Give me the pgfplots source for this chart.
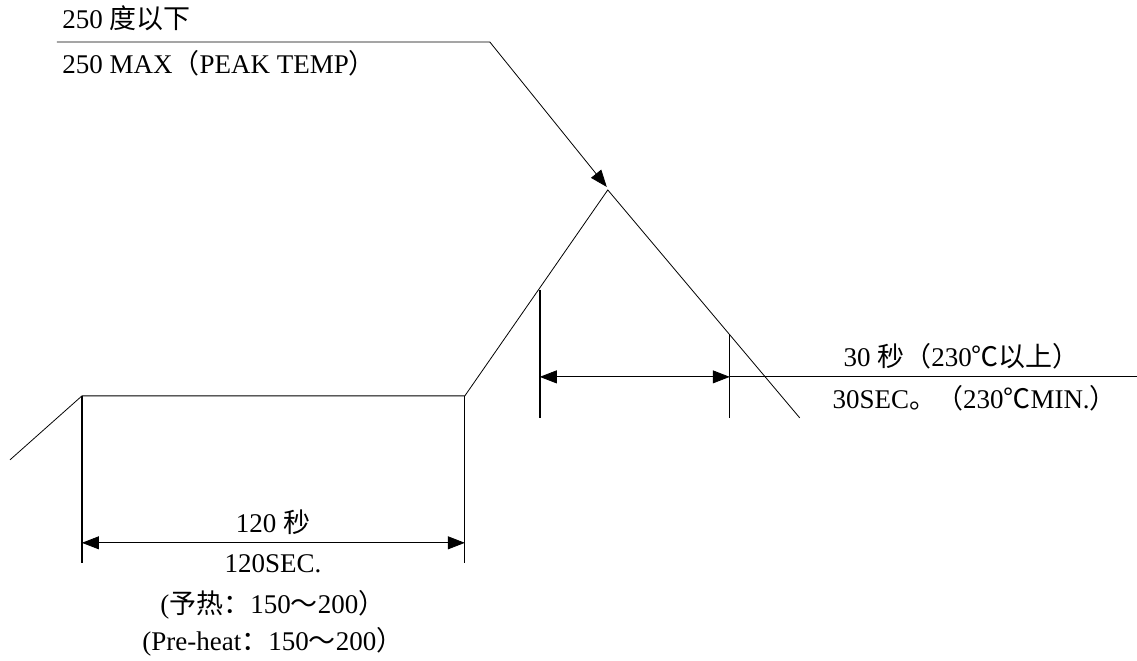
\documentclass[border=0pt]{standalone}
\usepackage{fontspec}
\usepackage{pgfplots}
\pgfplotsset{compat=1.18}
\usetikzlibrary{arrows.meta}
\setmainfont{Liberation Serif}
\newfontfamily\cjk{Noto Sans CJK SC}
\tikzset{
  tip/.tip={Triangle[length=8.5pt,width=6.5pt]},
  dim/.style={tip-tip},
  lbl/.style={font=\fontsize{13.5}{15}\selectfont, inner sep=0pt},
}
\begin{document}
\begin{tikzpicture}
\begin{axis}[
  scale only axis,
  width=568.5pt, height=330.5pt,
  xmin=0, xmax=1137, ymin=0, ymax=661,
  y dir=reverse,
  hide axis, clip=false,
  cycle list={{black, solid, no markers, line width=0.9pt}},
]
% frame for page size
\addplot[draw=none] coordinates {(0,0) (1137,661)};
% profile
\addplot coordinates {(10,460) (82,396) (465,396) (608,190) (800,418)};
% peak leader
\addplot+[-tip] coordinates {(57,42) (490,42) (607,187)};
% 30 s dimension
\addplot coordinates {(540,290) (540,418)};
\addplot coordinates {(730,335) (730,418)};
\addplot+[dim] coordinates {(540,377) (730,377)};
\addplot coordinates {(730,377) (1137,377)};
% 120 s dimension
\addplot coordinates {(82,396) (82,563)};
\addplot coordinates {(465,396) (465,563)};
\addplot+[dim] coordinates {(82,543) (465,543)};
% labels
\node[lbl, anchor=west] at (axis cs:62,18) {250 {\cjk 度以下}};
\node[lbl, anchor=west] at (axis cs:62,63) {250 MAX{\cjk （}PEAK TEMP{\cjk ）}};
\node[lbl] at (axis cs:962,356) {30 {\cjk 秒（}230{\cjk ℃以上）}};
\node[lbl] at (axis cs:975,398) {30SEC{\cjk 。（}230{\cjk ℃}MIN.{\cjk ）}};
\node[lbl] at (axis cs:273,522) {120 {\cjk 秒}};
\node[lbl] at (axis cs:273,564) {120SEC.};
\node[lbl] at (axis cs:273,605) {({\cjk 予热：}150{\cjk ～}200{\cjk ）}};
\node[lbl] at (axis cs:273,642) {(Pre-heat{\cjk ：}150{\cjk ～}200{\cjk ）}};
\end{axis}
\end{tikzpicture}
\end{document}
